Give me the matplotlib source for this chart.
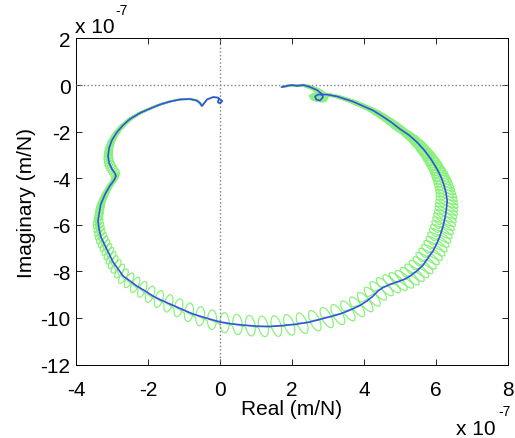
import numpy as np
import matplotlib
matplotlib.use('Agg')
import matplotlib.pyplot as plt

plt.rcParams['font.family'] = ['Liberation Sans', 'DejaVu Sans']

# ---- data (units of 1e-7 m/N) ----
blue_re = [-0.03, -0.06, 0.00, 0.06, -0.06, -0.19, -0.36, -0.50, -0.56, -0.64,
           -0.83, -1.11, -1.39, -1.67, -1.94, -2.22, -2.50, -2.69, -2.86, -3.00,
           -3.08, -3.11, -3.08, -3.00, -2.92, -2.89, -2.94, -3.06, -3.19, -3.31,
           -3.36, -3.39, -3.36, -3.31, -3.19, -3.08, -2.97, -2.83, -2.69, -2.50,
           -2.31, -2.08, -1.86, -1.64, -1.39, -1.08, -0.75, -0.39, 0.00, 0.36,
           0.75, 1.11, 1.44, 1.78, 2.14, 2.50, 2.92, 3.33, 3.61, 3.89,
           4.08, 4.25, 4.39, 4.53, 4.72, 4.92, 5.11, 5.28, 5.47, 5.64,
           5.78, 5.92, 6.03, 6.11, 6.19, 6.25, 6.29, 6.31, 6.28, 6.22,
           6.14, 6.03, 5.86, 5.67, 5.47, 5.25, 5.00, 4.75, 4.50, 4.25,
           3.97, 3.69, 3.47, 3.25, 2.97, 2.72, 2.64, 2.67, 2.78, 2.86,
           2.83, 2.69, 2.50, 2.31, 2.14, 2.00, 1.86, 1.72]
blue_im = [-0.60, -0.73, -0.79, -0.69, -0.54, -0.52, -0.62, -0.90, -0.77, -0.67,
           -0.60, -0.62, -0.71, -0.84, -1.01, -1.20, -1.46, -1.72, -2.02, -2.36,
           -2.70, -3.05, -3.35, -3.61, -3.78, -3.91, -4.08, -4.33, -4.68, -5.11,
           -5.54, -5.84, -6.18, -6.52, -6.91, -7.25, -7.60, -7.90, -8.20, -8.41,
           -8.63, -8.84, -9.06, -9.23, -9.40, -9.61, -9.83, -10.00, -10.17, -10.26,
           -10.32, -10.36, -10.36, -10.32, -10.26, -10.17, -10.00, -9.83, -9.66, -9.46,
           -9.27, -9.06, -8.84, -8.69, -8.56, -8.45, -8.35, -8.20, -7.98, -7.73,
           -7.42, -7.12, -6.78, -6.48, -6.09, -5.71, -5.32, -4.98, -4.64, -4.29,
           -3.95, -3.61, -3.18, -2.79, -2.45, -2.15, -1.89, -1.59, -1.33, -1.09,
           -0.90, -0.71, -0.60, -0.49, -0.41, -0.41, -0.49, -0.62, -0.67, -0.52,
           -0.39, -0.21, -0.09, 0.00, -0.04, 0.00, -0.04, -0.09]

green_anchor_idx = [0, 14, 20, 30, 36, 42, 48, 55, 60, 67, 76, 84, 93, 96, 100, 107]
green_gap_px = [1.5, 1.5, 2.0, 3.0, 5.0, 10.0, 13.0, 13.0, 9.0, 6.0, 3.5, 2.5, 2.0, 1.5, 1.5, 1.5]
green_amp = [0.035, 0.04, 0.037, 0.034, 0.036, 0.039, 0.042, 0.043, 0.044, 0.045,
             0.047, 0.045, 0.04, 0.06, 0.05, 0.03]

xticks = [-4, -2, 0, 2, 4, 6, 8]
yticks = [-12, -10, -8, -6, -4, -2, 0, 2]

W, H = 515, 439
fig = plt.figure(figsize=(W / 100, H / 100), dpi=100)
ax = fig.add_axes([76 / W, 1 - 365.6 / H, 432 / W, 326.2 / H])
ax.set_xlim(-4, 8)
ax.set_ylim(-12, 2)

# ---- build the green loops along the blue path ----
re = np.array(blue_re)
im = np.array(blue_im)
sx, sy = 36.0, 23.3
seg = np.hypot(np.diff(re * sx), np.diff(im * sy))
s = np.concatenate([[0], np.cumsum(seg)])
sd = np.linspace(0, s[-1], 40000)
gap = np.interp(sd, s[green_anchor_idx], green_gap_px)
phi = np.concatenate([[0], np.cumsum(2 * np.pi * np.diff(sd) / gap[1:])])
U = phi[-1] / (2 * np.pi)
u = np.linspace(0, U, 120000)
up = u - 0.25
k = np.floor(up)
f = up - k
w = 0.012
step = 0.5 + 0.5 * np.tanh((f - 0.5) / w) / np.tanh(0.5 / w)
ust = np.clip(k + step + 0.25, 0, U)
s_st = np.interp(2 * np.pi * ust, phi, sd)
xd = np.interp(s_st, s, re)
yd = np.interp(s_st, s, im)
amp = np.interp(s_st, s[green_anchor_idx], green_amp)
ph = 2 * np.pi * u
z = xd + 1j * yd
g = z * (1 + amp * np.cos(ph) + 1j * 0.3 * amp * np.sin(ph))

ax.plot(g.real, g.imag, color='#8af27c', lw=0.9, zorder=2)
ax.axhline(0, color='#808080', ls=':', lw=1.0, zorder=3)
ax.axvline(0, color='#808080', ls=':', lw=1.0, zorder=3)
ax.plot(blue_re, blue_im, color='#3550e6', lw=1.2, zorder=4)

ax.set_xticks(xticks)
ax.set_yticks(yticks)
ax.set_xticklabels([str(t) for t in xticks])
ax.set_yticklabels([str(t) for t in yticks])
ax.tick_params(direction='in', length=4, width=0.6, top=True, right=True,
               labelsize=15, colors='black')
ax.tick_params(axis='x', pad=11)
ax.tick_params(axis='y', pad=4)
for sp in ax.spines.values():
    sp.set_linewidth(0.7)

ax.set_xlabel('Real (m/N)', fontsize=15, labelpad=0)
ax.set_ylabel('Imaginary (m/N)', fontsize=15, labelpad=3)

fig.text(75 / W, 1 - 33 / H, 'x 10', fontsize=15, ha='left', va='baseline')
fig.text(115 / W, 1 - 15 / H, '-7', fontsize=10, ha='left', va='baseline')
fig.text(456 / W, 1 - 435 / H, 'x 10', fontsize=15, ha='left', va='baseline')
fig.text(498 / W, 1 - 416 / H, '-7', fontsize=10, ha='left', va='baseline')

fig.savefig('out.png', dpi=100)
